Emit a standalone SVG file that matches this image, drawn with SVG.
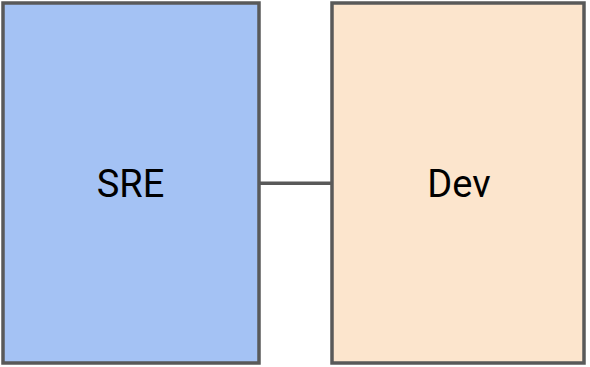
<svg xmlns="http://www.w3.org/2000/svg" width="590" height="367" viewBox="0 0 590 367">
  <style>
    .box { stroke: #595959; stroke-width: 3.5; }
    .label { font-family: Roboto, "Liberation Sans", sans-serif; font-size: 38px; fill: #000000; text-anchor: middle; }
    .link { stroke: #595959; stroke-width: 3.5; fill: none; }
  </style>
  <rect width="590" height="367" fill="#ffffff"/>
  <g id="connectors">
    <line class="link" x1="259" y1="183.3" x2="332" y2="183.3"/>
  </g>
  <g id="sre">
    <rect class="box" x="3" y="3" width="256" height="360" fill="#a4c2f4"/>
    <text class="label" x="130.5" y="197">SRE</text>
  </g>
  <g id="dev">
    <rect class="box" x="332" y="3" width="252" height="360" fill="#fce5cd"/>
    <text class="label" x="459" y="197">Dev</text>
  </g>
</svg>
